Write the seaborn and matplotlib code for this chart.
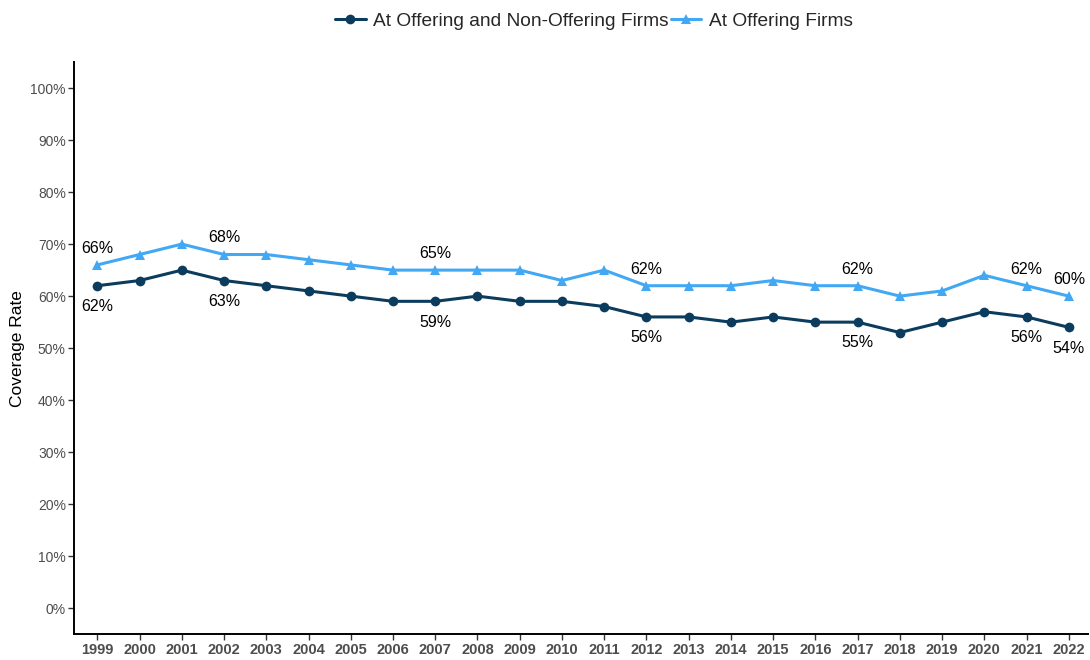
import matplotlib
matplotlib.use("Agg")
import matplotlib.pyplot as plt
import seaborn as sns
import pandas as pd

years = list(range(1999, 2023))
all_firms = [62, 63, 65, 63, 62, 61, 60, 59, 59, 60, 59, 59, 58, 56, 56, 55, 56, 55, 55, 53, 55, 57, 56, 54]
offering_firms = [66, 68, 70, 68, 68, 67, 66, 65, 65, 65, 65, 63, 65, 62, 62, 62, 63, 62, 62, 60, 61, 64, 62, 60]
series_names = ["At Offering and Non-Offering Firms", "At Offering Firms"]
labeled_years = [1999, 2002, 2007, 2012, 2017, 2021, 2022]
y_ticks = list(range(0, 101, 10))

dark = "#0b3c5d"
light = "#42a8f4"

sns.set_theme(style="white")
plt.rcParams["font.family"] = ["Liberation Sans", "DejaVu Sans"]

df = pd.DataFrame({
    "Year": years * 2,
    "Rate": all_firms + offering_firms,
    "Series": [series_names[0]] * len(years) + [series_names[1]] * len(years),
})

fig = plt.figure(figsize=(10.9, 6.6), dpi=100)
ax = fig.add_axes([0.068, 0.039, 0.930, 0.867])

sns.lineplot(
    data=df, x="Year", y="Rate", hue="Series", style="Series",
    palette={series_names[0]: dark, series_names[1]: light},
    markers={series_names[0]: "o", series_names[1]: "^"},
    dashes=False, linewidth=2.2, markersize=7, markeredgewidth=0,
    ax=ax,
)

for yr, a, b in zip(years, all_firms, offering_firms):
    if yr in labeled_years:
        ax.annotate(f"{b}%", (yr, b), xytext=(0, 12), textcoords="offset points",
                    ha="center", va="center", fontsize=11.5, color="black")
        ax.annotate(f"{a}%", (yr, a), xytext=(0, -15), textcoords="offset points",
                    ha="center", va="center", fontsize=11.5, color="black")

ax.set_xlim(1998.45, 2022.45)
ax.set_ylim(-5, 105)
ax.set_xticks(years)
ax.set_xticklabels([str(y) for y in years], fontweight="bold", fontsize=10.5, color="#4d4d4d")
ax.set_yticks(y_ticks)
ax.set_yticklabels([f"{v}%" for v in y_ticks], fontsize=10, color="#4d4d4d")
ax.set_xlabel("")
ax.set_ylabel("Coverage Rate", fontsize=12.5, color="black", labelpad=4)

ax.tick_params(axis="both", which="both", length=4, width=1, color="#333333",
               bottom=True, left=True, pad=2)
for side in ["top", "right"]:
    ax.spines[side].set_visible(False)
for side in ["left", "bottom"]:
    ax.spines[side].set_color("black")
    ax.spines[side].set_linewidth(1.4)

handles, labels = ax.get_legend_handles_labels()
ax.get_legend().remove()
fig.legend(handles, labels, loc="center", bbox_to_anchor=(0.545, 0.968),
           ncol=2, frameon=False, fontsize=13.8, handlelength=1.6,
           handletextpad=0.4, columnspacing=0.1, borderaxespad=0)

fig.savefig("out.png", dpi=100)
